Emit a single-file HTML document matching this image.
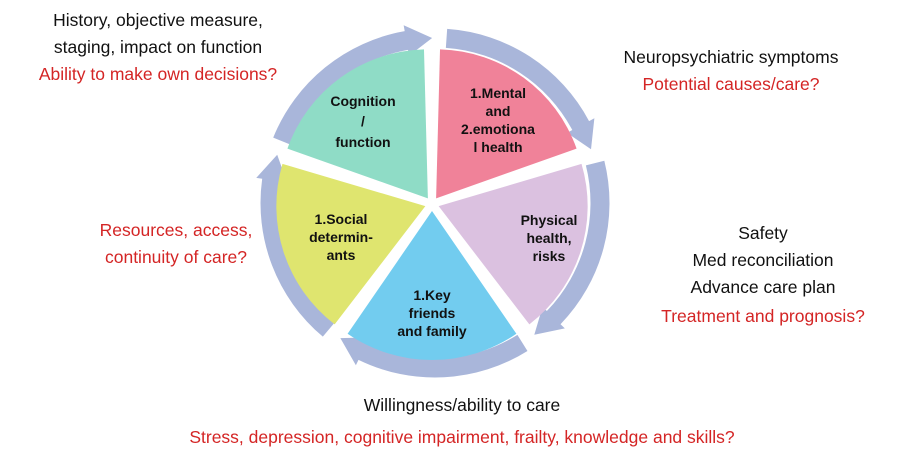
<!DOCTYPE html>
<html><head><meta charset="utf-8"><style>
html,body{margin:0;padding:0;background:#fff;}
svg{display:block;}
text{font-family:"Liberation Sans",sans-serif;}
.b{font-size:17.5px;fill:#111;text-anchor:middle;}
.r{font-size:17.5px;fill:#d42525;text-anchor:middle;}
.w{font-size:14px;font-weight:bold;fill:#111;text-anchor:middle;}
</style></head><body>
<svg id="s" width="900" height="455" viewBox="0 0 900 455" xmlns="http://www.w3.org/2000/svg">
<g id="ring"></g><g id="wedges"></g>
<text class="b" x="158" y="26">History, objective  measure,</text>
<text class="b" x="158" y="53">staging, impact on function</text>
<text class="r" x="158" y="80">Ability to make own decisions?</text>
<text class="b" x="731" y="63">Neuropsychiatric symptoms</text>
<text class="r" x="731" y="90">Potential causes/care?</text>
<text class="r" x="176" y="236">Resources, access,</text>
<text class="r" x="176" y="263">continuity of care?</text>
<text class="b" x="763" y="239">Safety</text>
<text class="b" x="763" y="266">Med reconciliation</text>
<text class="b" x="763" y="293">Advance care plan</text>
<text class="r" x="763" y="322">Treatment and prognosis?</text>
<text class="b" x="462" y="411">Willingness/ability to care</text>
<text class="r" x="462" y="443">Stress, depression, cognitive impairment, frailty, knowledge and skills?</text>
<g id="labels">
<text class="w" x="363" y="106">Cognition</text>
<text class="w" x="363" y="126">/</text>
<text class="w" x="363" y="147">function</text>
<text class="w" x="498" y="98">1.Mental</text>
<text class="w" x="498" y="116">and</text>
<text class="w" x="498" y="134">2.emotiona</text>
<text class="w" x="498" y="152">l health</text>
<text class="w" x="549" y="225">Physical</text>
<text class="w" x="549" y="243">health,</text>
<text class="w" x="549" y="261">risks</text>
<text class="w" x="432" y="300">1.Key</text>
<text class="w" x="432" y="318">friends</text>
<text class="w" x="432" y="336">and family</text>
<text class="w" x="341" y="224">1.Social</text>
<text class="w" x="341" y="242">determin-</text>
<text class="w" x="341" y="260">ants</text>
</g>
</svg>
<script>
var NS="http://www.w3.org/2000/svg";
function P(cx,cy,r,a){a=a*Math.PI/180;return [cx+r*Math.sin(a),cy-r*Math.cos(a)];}
function el(t,at,p){var e=document.createElementNS(NS,t);for(var k in at)e.setAttribute(k,at[k]);document.getElementById(p).appendChild(e);}
var cols=["#f08299","#dbc1e0","#72ccef","#dfe56f","#8fdcc6"];
var cx=432,cy=204,R=149;
for(var i=0;i<5;i++){
 var a0=i*72,a1=a0+72,m=a0+36;
 var o=P(0,0,7,m);var x=cx+o[0],y=cy+o[1];
 var p0=P(x,y,R,a0+1.5),p1=P(x,y,R,a1-1.5);
 el("path",{d:"M"+x+","+y+"L"+p0[0]+","+p0[1]+"A"+R+","+R+" 0 0 1 "+p1[0]+","+p1[1]+"Z",fill:cols[i]},"wedges");
}
var rx=435,ry=203,rr=165,hw=9.5;
for(var i=0;i<5;i++){
 var a=i*72-72;var s=a+4,e=a+62,t=a+71;
 var o1=P(rx,ry,rr+hw,s),o2=P(rx,ry,rr+hw,e),i2=P(rx,ry,rr-hw,e),i1=P(rx,ry,rr-hw,s);
 var h1=P(rx,ry,rr+hw+6,e),h2=P(rx,ry,rr-hw-6,e),tip=P(rx,ry,rr,t);
 el("path",{d:"M"+o1+"A"+(rr+hw)+","+(rr+hw)+" 0 0 1 "+o2+"L"+h1+"L"+tip+"L"+h2+"L"+i2+"A"+(rr-hw)+","+(rr-hw)+" 0 0 0 "+i1+"Z",fill:"#a9b6da"},"ring");
}
</script>
</body></html>
